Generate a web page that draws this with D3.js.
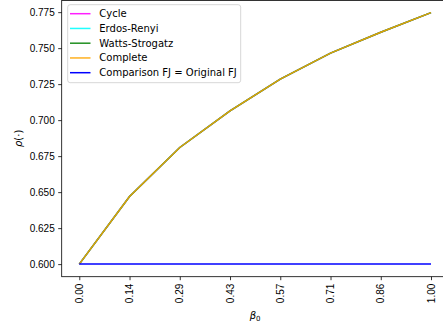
<!DOCTYPE html>
<html>
<head>
<meta charset="utf-8">
<script src="https://cdn.jsdelivr.net/npm/d3@7"></script>
<style>
  body { margin: 0; background: #fff; }
  svg { display: block; font-family: "DejaVu Sans", sans-serif; }
</style>
</head>
<body>
<div id="chart"></div>
<script>
const betaValues = [0, 0.142857, 0.285714, 0.428571, 0.571429, 0.714286, 0.857143, 1];
const tickLabels = ["0.00", "0.14", "0.29", "0.43", "0.57", "0.71", "0.86", "1.00"];
const yTicks = [0.600, 0.625, 0.650, 0.675, 0.700, 0.725, 0.750, 0.775];

const cycle = [0.600, 0.647, 0.681, 0.7065, 0.7285, 0.7465, 0.761, 0.7747];
const erdosRenyi = [0.600, 0.647, 0.681, 0.7065, 0.7285, 0.7465, 0.761, 0.7747];
const wattsStrogatz = [0.600, 0.647, 0.681, 0.7065, 0.7285, 0.7465, 0.761, 0.7747];
const complete = [0.600, 0.647, 0.681, 0.7065, 0.7285, 0.7465, 0.761, 0.7747];
const comparison = [0.600, 0.600, 0.600, 0.600, 0.600, 0.600, 0.600, 0.600];

const seriesNames = ["Cycle", "Erdos-Renyi", "Watts-Strogatz", "Complete", "Comparison FJ = Original FJ"];
const seriesColors = ["#ff00ff", "#00ffff", "#008000", "#ffa500", "#0000ff"];
const seriesValues = [cycle, erdosRenyi, wattsStrogatz, complete, comparison];
const lineAlpha = 0.88;

const width = 443, height = 326;
const plotLeft = 61.7, plotRight = 448.6, plotTop = 0, plotBottom = 276.7;

const svg = d3.select("#chart").append("svg")
  .attr("width", width)
  .attr("height", height);

// matplotlib style 5% margins
function padded(lo, hi) {
  const p = (hi - lo) * 0.05;
  return [lo - p, hi + p];
}
const allY = seriesValues.flat();
const x = d3.scaleLinear().domain(padded(d3.min(betaValues), d3.max(betaValues))).range([plotLeft, plotRight]);
const y = d3.scaleLinear().domain(padded(d3.min(allY), d3.max(allY))).range([plotBottom, plotTop]);

// lines
const line = d3.line()
  .x((d, i) => x(betaValues[i]))
  .y(d => y(d));

seriesValues.forEach((vals, k) => {
  svg.append("path")
    .datum(vals)
    .attr("fill", "none")
    .attr("stroke", seriesColors[k])
    .attr("stroke-opacity", k < 4 ? lineAlpha : 1)
    .attr("stroke-width", 1.5)
    .attr("d", line);
});

// x axis
const xAxis = svg.append("g")
  .attr("transform", `translate(0,${plotBottom})`)
  .call(d3.axisBottom(x).tickValues(betaValues).tickSize(3.5).tickPadding(3.5)
    .tickFormat((d, i) => tickLabels[i]));
xAxis.select(".domain").remove();
xAxis.selectAll(".tick line").attr("stroke", "#000").attr("stroke-width", 0.8);
xAxis.selectAll(".tick text")
  .attr("font-size", 10)
  .attr("fill", "#000")
  .attr("transform", "rotate(-90)")
  .attr("text-anchor", "end")
  .attr("dy", "0.32em")
  .attr("x", -7)
  .attr("y", 0);

// y axis
const yAxis = svg.append("g")
  .attr("transform", `translate(${plotLeft},0)`)
  .call(d3.axisLeft(y).tickValues(yTicks).tickSize(3.5).tickPadding(3.5)
    .tickFormat(d3.format(".3f")));
yAxis.select(".domain").remove();
yAxis.selectAll(".tick line").attr("stroke", "#000").attr("stroke-width", 0.8);
yAxis.selectAll(".tick text").attr("font-size", 10).attr("fill", "#000");

// spines
svg.append("rect")
  .attr("x", plotLeft).attr("y", plotTop + 0.4)
  .attr("width", plotRight - plotLeft).attr("height", plotBottom - plotTop - 0.4)
  .attr("fill", "none")
  .attr("stroke", "#000")
  .attr("stroke-width", 0.8);

// axis labels
const xl = svg.append("text")
  .attr("x", (plotLeft + plotRight) / 2)
  .attr("y", 319)
  .attr("text-anchor", "middle")
  .attr("font-size", 10);
xl.append("tspan").attr("font-style", "italic").text("β");
xl.append("tspan").attr("font-size", 7).attr("dy", 2).text("0");

const yl = svg.append("text")
  .attr("transform", `translate(17.5,${(plotTop + plotBottom) / 2}) rotate(-90)`)
  .attr("text-anchor", "middle")
  .attr("dominant-baseline", "central")
  .attr("font-size", 10);
yl.append("tspan").attr("font-style", "italic").text("ρ");
yl.append("tspan").text("(·)");

// legend
const legend = svg.append("g");
legend.append("rect")
  .attr("x", 67.7).attr("y", 4.7)
  .attr("width", 173).attr("height", 78)
  .attr("rx", 2.5)
  .attr("fill", "#fff").attr("fill-opacity", 0.8)
  .attr("stroke", "#cccccc").attr("stroke-width", 0.8);

seriesNames.forEach((name, i) => {
  const ly = 13.7 + i * 14.75;
  legend.append("line")
    .attr("x1", 70).attr("x2", 90.5)
    .attr("y1", ly).attr("y2", ly)
    .attr("stroke", seriesColors[i])
    .attr("stroke-opacity", i < 4 ? lineAlpha : 1)
    .attr("stroke-width", 1.5);
  legend.append("text")
    .attr("x", 99.3).attr("y", ly)
    .attr("dy", "0.35em")
    .attr("font-size", 10)
    .attr("fill", "#000")
    .text(name);
});
</script>
</body>
</html>
